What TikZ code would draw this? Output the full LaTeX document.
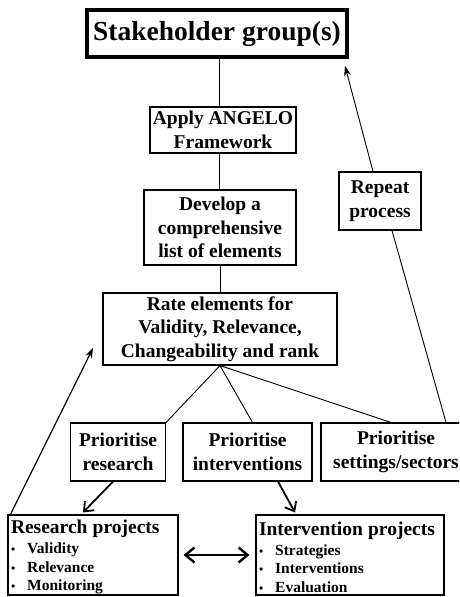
\documentclass[tikz,border=0pt]{standalone}
\usepackage{fontspec}
\setmainfont{Liberation Serif}
\usetikzlibrary{arrows.meta}
\newcommand{\itm}[1]{{\fontsize{12}{12}\selectfont\textbullet}\hspace{12pt}#1}

\begin{document}
\begin{tikzpicture}[x=1pt,y=-1pt,font=\bfseries\fontsize{19.5}{23.4}\selectfont,>={Stealth[length=10pt,width=7pt]},
box/.style={draw,line width=1.1pt,align=center,inner sep=0pt},
proj/.style={draw,line width=1.1pt,align=left,inner xsep=3pt,inner ysep=0pt,minimum height=80pt,font=\bfseries\fontsize{15.5}{18.5}\selectfont},
link/.style={line width=0.9pt},
arr/.style={->,line width=1.2pt},
barb/.style={line width=1.8pt,-{Straight Barb[length=8pt,width=13pt]}},
dbl/.style={line width=2.4pt,{Straight Barb[length=9pt,width=15pt]}-{Straight Barb[length=9pt,width=15pt]}}]
\clip (0,0) rectangle (459,597);
\node[box,line width=3.8pt,minimum width=260pt,minimum height=47pt,font=\bfseries\fontsize{27.5}{33}\selectfont] (stake) at (217,33.5) {Stakeholder group(s)};
\node[box,minimum width=146pt,minimum height=46pt] (apply) at (223,130) {Apply ANGELO\\Framework};
\node[box,minimum width=152pt,minimum height=75pt] (develop) at (220,227.5) {Develop a\\comprehensive\\list of elements};
\node[box,minimum width=234pt,minimum height=72pt] (rate) at (220,329) {Rate elements for\\Validity, Relevance,\\Changeability and rank};
\node[box,minimum width=82pt,minimum height=58pt] (rep) at (380,201) {Repeat\\process};
\node[box,minimum width=95pt,minimum height=58pt] (pres) at (118,452) {Prioritise\\research};
\node[box,minimum width=129pt,minimum height=58pt] (pint) at (247.5,452) {Prioritise\\interventions};
\node[box,minimum width=150pt,minimum height=58pt] (pset) at (396,452) {Prioritise\\settings/sectors};
\node[proj,text width=164pt] (resproj) at (93,555) {{\fontsize{19.5}{23.4}\selectfont\rule{0pt}{18pt}Research projects}\\[1.5pt]\itm{Validity}\\\itm{Relevance}\\\itm{Monitoring}};
\node[proj,text width=182pt] (intproj) at (350,555) {{\fontsize{19.5}{23.4}\selectfont\rule{0pt}{18pt}Intervention projects}\\[1.5pt]\itm{Strategies}\\\itm{Interventions}\\\itm{Evaluation}};
\coordinate (back) at (345,66); \coordinate (loop) at (93,348);
\draw[link] ([xshift=2pt]stake.south)--([xshift=-4pt]apply.north); \draw[link] ([xshift=-4pt]apply.south)--([xshift=-1pt]develop.north); \draw[link] (develop)--(rate);
\draw[link] (rate.south)--(pres.north east); \draw[link] (rate.south)--([xshift=5pt]pint.north); \draw[link] (rate.south)--([xshift=-5pt]pset.north);
\draw[link] ([xshift=50pt]pset.north)--([xshift=12pt]rep.south); \draw[arr,line width=0.9pt] ([xshift=-7pt]rep.north)--(back);
\draw[barb] ([xshift=-5pt]pres.south)--([xshift=-10pt,yshift=2pt]resproj.north); \draw[barb] ([xshift=30.5pt]pint.south)--([xshift=-55pt,yshift=2pt]intproj.north);
\draw[dbl] ([xshift=5pt]resproj.east)--([xshift=-6pt]intproj.west);
\draw[arr] ([xshift=3pt]resproj.north west)--(loop);
\end{tikzpicture}
\end{document}
